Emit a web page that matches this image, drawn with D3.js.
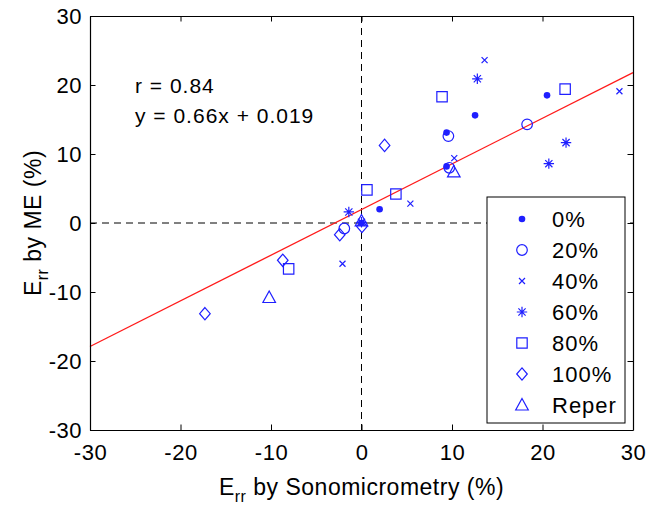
<!DOCTYPE html>
<html>
<head>
<meta charset="utf-8">
<script src="https://cdn.jsdelivr.net/npm/d3@7"></script>
<style>
  html, body { margin: 0; padding: 0; background: #fff; }
  svg { display: block; font-family: "Liberation Sans", Arial, Helvetica, sans-serif; }
</style>
</head>
<body>
<svg id="chart" width="654" height="514"></svg>
<script>
// ---------- data ----------
const xTicks = [-30, -20, -10, 0, 10, 20, 30];
const yTicks = [-30, -20, -10, 0, 10, 20, 30];

const series0   = [[9.4, 13.1], [12.55, 15.6], [20.5, 18.5], [2.0, 2.0], [9.4, 8.2], [0, 0]];
const series20  = [[9.6, 12.6], [9.7, 8.0], [18.3, 14.3], [-1.9, -0.8]];
const series40  = [[13.6, 23.6], [10.25, 9.4], [28.5, 19.1], [5.4, 2.8], [-2.1, -5.9]];
const series60  = [[12.8, 20.9], [22.6, 11.65], [20.7, 8.6], [-1.4, 1.6], [0, 0.1]];
const series80  = [[8.9, 18.3], [22.5, 19.4], [0.6, 4.8], [3.8, 4.2], [-8.05, -6.65]];
const series100 = [[2.55, 11.25], [-2.4, -1.7], [-8.7, -5.4], [-17.3, -13.15], [0.05, -0.5]];
const seriesRep = [[10.2, 7.4], [-10.2, -10.8], [0, 0.3]];

const legendLabels = ["0%", "20%", "40%", "60%", "80%", "100%", "Reper"];
const markerKinds  = ["dot", "circle", "x", "star", "square", "diamond", "triangle"];

const fitLine = [[-30, -17.9], [30, 21.8]];
const annotations = ["r = 0.84", "y = 0.66x + 0.019"];

// ---------- layout ----------
const svg = d3.select("#chart");
const X0 = 90, X1 = 633, Y0 = 16, Y1 = 430;
const x = d3.scaleLinear().domain([-30, 30]).range([X0, X1]);
const y = d3.scaleLinear().domain([-30, 30]).range([Y1, Y0]);
const blue = "#1f1fff";

// dashed zero lines
svg.append("line").attr("x1", X0).attr("x2", X1).attr("y1", y(0)).attr("y2", y(0))
  .attr("stroke", "#000").attr("stroke-width", 1).attr("stroke-dasharray", "7,5");
svg.append("line").attr("x1", x(0)).attr("x2", x(0)).attr("y1", Y0).attr("y2", Y1)
  .attr("stroke", "#000").attr("stroke-width", 1).attr("stroke-dasharray", "7,5");

// fit line
svg.append("path").datum(fitLine)
  .attr("d", d3.line().x(d => x(d[0])).y(d => y(d[1])))
  .attr("fill", "none").attr("stroke", "#ff1a1a").attr("stroke-width", 1.3);

// marker paths
function markerPath(kind) {
  switch (kind) {
    case "circle": return d3.arc()({innerRadius: 0, outerRadius: 5.3, startAngle: 0, endAngle: 2 * Math.PI});
    case "square": return "M-5.2,-5.2H5.2V5.2H-5.2Z";
    case "diamond": return "M0,-6.2L5.3,0L0,6.2L-5.3,0Z";
    case "triangle": return "M0,-6.5L6.3,5L-6.3,5Z";
    case "x": return "M-3,-3L3,3M-3,3L3,-3";
    case "star": return "M0,-5.2V5.2M-5.2,0H5.2M-3.6,-3.6L3.6,3.6M-3.6,3.6L3.6,-3.6";
  }
  return null;
}
function drawMarker(g, kind, px, py) {
  if (kind === "dot") {
    g.append("circle").attr("cx", px).attr("cy", py).attr("r", 3.3).attr("fill", blue);
  } else {
    g.append("path").attr("d", markerPath(kind)).attr("transform", `translate(${px},${py})`)
      .attr("fill", "none").attr("stroke", blue).attr("stroke-width", 1.2);
  }
}

const allSeries = [series0, series20, series40, series60, series80, series100, seriesRep];
const gPts = svg.append("g");
allSeries.forEach((s, i) => {
  s.forEach(d => drawMarker(gPts, markerKinds[i], x(d[0]), y(d[1])));
});

// axes (box with inward ticks)
const tickLen = 5.5;
const fmt = d => String(d);
function styleAxis(g) {
  g.selectAll("path.domain").attr("stroke", "#000").attr("stroke-width", 1.2);
  g.selectAll(".tick line").attr("stroke", "#000").attr("stroke-width", 1);
  g.selectAll(".tick text").attr("fill", "#000").attr("font-size", 22).attr("letter-spacing", 0.5)
    .attr("font-family", "Liberation Sans, Arial, sans-serif");
}
svg.append("g").attr("transform", `translate(0,${Y1})`)
  .call(d3.axisBottom(x).tickValues(xTicks).tickFormat(fmt).tickSizeInner(-tickLen).tickSizeOuter(0).tickPadding(14))
  .call(styleAxis);
svg.append("g").attr("transform", `translate(${X0},0)`)
  .call(d3.axisLeft(y).tickValues(yTicks).tickFormat(fmt).tickSizeInner(-tickLen).tickSizeOuter(0).tickPadding(8))
  .call(styleAxis);
svg.append("g").attr("transform", `translate(0,${Y0})`)
  .call(d3.axisTop(x).tickValues(xTicks).tickSizeInner(-tickLen).tickSizeOuter(0).tickFormat(""))
  .call(styleAxis);
svg.append("g").attr("transform", `translate(${X1},0)`)
  .call(d3.axisRight(y).tickValues(yTicks).tickSizeInner(-tickLen).tickSizeOuter(0).tickFormat(""))
  .call(styleAxis);

// annotations
annotations.forEach((t, i) => {
  svg.append("text").attr("x", 135).attr("y", 93 + i * 30)
    .attr("font-size", 21).attr("letter-spacing", 1).attr("fill", "#000").text(t);
});

// axis titles
const xt = svg.append("text").attr("x", (X0 + X1) / 2).attr("y", 495)
  .attr("text-anchor", "middle").attr("font-size", 23).attr("letter-spacing", 0.5).attr("fill", "#000");
xt.append("tspan").text("E");
xt.append("tspan").attr("font-size", 16).attr("dy", 7).text("rr");
xt.append("tspan").attr("dy", -7).text(" by Sonomicrometry (%)");

const yt = svg.append("text").attr("transform", `translate(41,${(Y0 + Y1) / 2}) rotate(-90)`)
  .attr("text-anchor", "middle").attr("font-size", 23).attr("letter-spacing", 0.5).attr("fill", "#000");
yt.append("tspan").text("E");
yt.append("tspan").attr("font-size", 16).attr("dy", 7).text("rr");
yt.append("tspan").attr("dy", -7).text(" by ME (%)");

// legend
const LX = 487, LY = 197, LW = 138, LH = 226;
const gLeg = svg.append("g");
gLeg.append("rect").attr("x", LX).attr("y", LY).attr("width", LW).attr("height", LH)
  .attr("fill", "#fff").attr("stroke", "#000").attr("stroke-width", 1);
legendLabels.forEach((lab, i) => {
  const cy = 219 + i * 31;
  drawMarker(gLeg, markerKinds[i], 522, cy);
  gLeg.append("text").attr("x", 552).attr("y", cy).attr("dy", "0.36em")
    .attr("font-size", 22).attr("letter-spacing", 1).attr("fill", "#000").text(lab);
});
</script>
</body>
</html>
